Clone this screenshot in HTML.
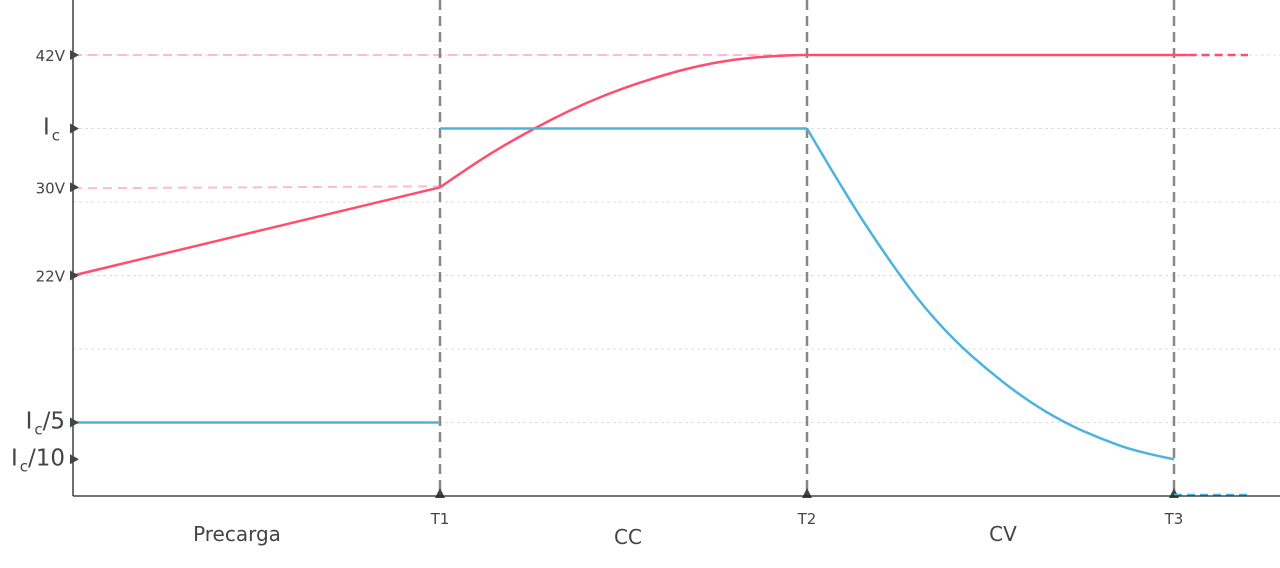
<!DOCTYPE html>
<html><head><meta charset="utf-8"><style>
body{margin:0;background:#fff}
svg{display:block;font-family:"DejaVu Sans","Liberation Sans",sans-serif}
</style></head><body>
<svg id="chart" width="1280" height="568"></svg>
<script>
const phaseTimes=[1,2,3];
const phaseNames=["Precarga","CC","CV"];
const preT=[0,1];
const preV=[22,30];
const voltT=[1,1.1,1.2,1.3,1.4,1.5,1.6,1.7,1.8,1.9,1.98];
const voltV=[30,32.3,34.3,36.1,37.7,39.0,40.1,41.0,41.6,41.9,42];
const flatT=[1.98,3.04];
const flatV=[42,42];
const preCurT=[0,1];
const preCurI=[0.2,0.2];
const ccT=[1,2];
const ccI=[1,1];
const cvT=[2,2.1,2.2,2.3,2.4,2.5,2.6,2.7,2.8,2.9,3];
const cvI=[1,0.83,0.676,0.536,0.424,0.336,0.26,0.2,0.156,0.12,0.1];
const voltTicks=[42,30,22];
const curTicks=[1,0.2,0.1];
const curTickLabels=[["I","c",""],["I","c","/5"],["I","c","/10"]];
const NS="http://www.w3.org/2000/svg";
const svg=document.getElementById('chart');
const X=t=>73+367*t;
const Yu=u=>496-73.5*u;
const YV=v=>Yu((v-22)*0.15+3);
const YI=i=>Yu(i*5);
function mk(tag,a,parent){const e=document.createElementNS(NS,tag);for(const k in a)e.setAttribute(k,a[k]);(parent||svg).appendChild(e);return e;}
function smooth(pts){
 let d='M'+pts[0][0]+','+pts[0][1];
 if(pts.length<3){for(let i=1;i<pts.length;i++)d+=' L'+pts[i][0]+','+pts[i][1];return d;}
 for(let i=1;i<pts.length-1;i++){
  const mx=(pts[i][0]+pts[i+1][0])/2,my=(pts[i][1]+pts[i+1][1])/2;
  if(i===pts.length-2) d+=` Q${pts[i][0]},${pts[i][1]} ${pts[i+1][0]},${pts[i+1][1]}`;
  else d+=` Q${pts[i][0]},${pts[i][1]} ${mx},${my}`;
 }
 return d;
}
for(let u=1;u<=6;u++){const g=mk('line',{x1:73,x2:1280,y1:Yu(u),y2:Yu(u),stroke:'#ddd','stroke-dasharray':'3,3'});

}
let r=mk('line',{x1:73,x2:X(1.98),y1:YV(42),y2:YV(42),stroke:'#ffb8d8','stroke-width':2,'stroke-dasharray':'9,6'});


r=mk('line',{x1:73,x2:X(1),y1:YV(30)+1,y2:YV(30)-1,stroke:'#ffb8d8','stroke-width':2,'stroke-dasharray':'9,6'});


phaseTimes.forEach((t,i)=>{
 const l=mk('line',{x1:X(t),x2:X(t),y1:0,y2:496,stroke:'#888','stroke-width':2.5,'stroke-dasharray':'10,6'});
 
 
 const m=mk('path',{d:`M${X(t)-5},498 L${X(t)+5},498 L${X(t)},488 Z`,fill:'#444'});
 
 
 const tx=mk('text',{x:X(t),y:524,'text-anchor':'middle','font-size':15,fill:'#444'});tx.textContent='T'+(i+1);
 
 
});
const nameX=[237,628,1003],nameY=[541,544,541];
phaseNames.forEach((n,i)=>{const tx=mk('text',{x:nameX[i],y:nameY[i],'text-anchor':'middle','font-size':20,fill:'#444'});tx.textContent=n;

});
function series(ts,vs,yf,color,name){
 const p=mk('path',{d:smooth(ts.map((t,i)=>[X(t),yf(vs[i])])),fill:'none',stroke:color,'stroke-width':2.5});
 
 
}
series(preT,preV,YV,'#ff4d6d','voltage-precharge-line');
series(voltT,voltV,YV,'#ff4d6d','voltage-cc-line');
series(flatT,flatV,YV,'#ff4d6d','voltage-cv-line');
let p=mk('line',{x1:X(3.04),x2:1248,y1:YV(42),y2:YV(42),stroke:'#ff4d6d','stroke-width':2.5,'stroke-dasharray':'8,5'});


series(preCurT,preCurI,YI,'#4ab4dc','current-precharge-line');
series(ccT,ccI,YI,'#4ab4dc','current-cc-line');
series(cvT,cvI,YI,'#4ab4dc','current-cv-line');
p=mk('line',{x1:X(3),x2:1248,y1:495,y2:495,stroke:'#4ab4dc','stroke-width':2.5,'stroke-dasharray':'8,5'});


let ax=mk('line',{x1:73,x2:73,y1:0,y2:496,stroke:'#222','stroke-width':1.3});


ax=mk('line',{x1:73,x2:1280,y1:496,y2:496,stroke:'#222','stroke-width':1.3});


function marker(y){const m=mk('path',{d:`M70,${y-5} L79,${y} L70,${y+5} Z`,fill:'#444'});

}
voltTicks.forEach(v=>{const y=YV(v);marker(y);
 const tx=mk('text',{x:65,y:y+6,'text-anchor':'end','font-size':15,fill:'#444'});tx.textContent=v+'V';
 
 });
curTicks.forEach((c,i)=>{const y=YI(c);marker(y);
 const lb=curTickLabels[i];
 const tx=mk('text',{x:lb[2]?65:60,y:y+6,'text-anchor':'end','font-size':23,fill:'#444'});
 
 
 const a=mk('tspan',{},tx);a.textContent=lb[0];
 const b=mk('tspan',{'font-size':15,dy:6,dx:2},tx);b.textContent=lb[1];
 if(lb[2]){const c2=mk('tspan',{dy:-6},tx);c2.textContent=lb[2];}
});
</script>
</body></html>
